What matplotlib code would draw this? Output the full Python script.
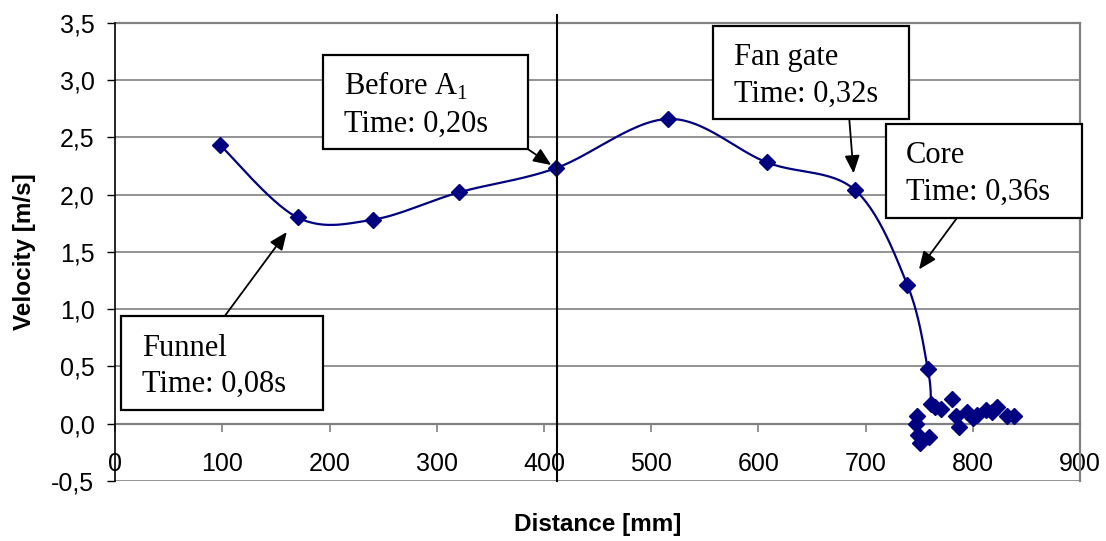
import numpy as np
import matplotlib
matplotlib.use("Agg")
import matplotlib.pyplot as plt
from matplotlib.patches import Rectangle
from matplotlib.ticker import FuncFormatter, MultipleLocator

plt.rcParams['font.family'] = ['Liberation Sans', 'DejaVu Sans']
plt.rcParams['mathtext.fontset'] = 'custom'
plt.rcParams['mathtext.rm'] = 'Liberation Serif'

# ---- data ----
main_x = [98, 170, 240, 321, 411, 516, 608, 690, 739, 758, 761]
main_y = [2.43, 1.80, 1.78, 2.02, 2.23, 2.66, 2.28, 2.04, 1.21, 0.48, 0.17]
cluster_x = [748, 747, 749, 751, 759, 765, 770, 781, 784, 787, 795, 800, 804, 812, 818, 823, 832, 838]
cluster_y = [0.07, 0.00, -0.10, -0.17, -0.12, 0.15, 0.13, 0.22, 0.07, -0.03, 0.10, 0.05, 0.08, 0.12, 0.10, 0.15, 0.07, 0.07]
marker_line_x = 412
x_ticks = [0, 100, 200, 300, 400, 500, 600, 700, 800, 900]
y_ticks = [-0.5, 0.0, 0.5, 1.0, 1.5, 2.0, 2.5, 3.0, 3.5]
annotations = [
    ("Funnel", "Time: 0,08s", 1),
    ("Before A$_\\mathregular{1}$", "Time: 0,20s", 4),
    ("Fan gate", "Time: 0,32s", 7),
    ("Core", "Time: 0,36s", 8),
]

W, H = 1106, 541
NAVY = '#000080'
GRID = '#808080'


def smooth(xs, ys, n=30):
    """Excel-like smoothed line (Catmull-Rom style cubic Bezier)."""
    P = np.column_stack([xs, ys]).astype(float)
    out = []
    m = len(P)
    for i in range(m - 1):
        p0 = P[i - 1] if i > 0 else P[i]
        p1 = P[i]
        p2 = P[i + 1]
        p3 = P[i + 2] if i + 2 < m else P[i + 1]
        c1 = p1 + (p2 - p0) / 6.0
        c2 = p2 - (p3 - p1) / 6.0
        t = np.linspace(0, 1, n)[:, None]
        seg = ((1 - t) ** 3) * p1 + 3 * ((1 - t) ** 2) * t * c1 + 3 * (1 - t) * t ** 2 * c2 + t ** 3 * p2
        out.append(seg if i == 0 else seg[1:])
    S = np.vstack(out)
    return S[:, 0], S[:, 1]


def ff(px, py):
    return (px / W, 1 - py / H)


fig = plt.figure(figsize=(W / 100, H / 100), dpi=100)
ax = fig.add_axes([115.3 / W, 1 - 481 / H, (1080 - 115.3) / W, (481 - 22.7) / H])

ax.set_xlim(0, 900)
ax.set_ylim(-0.5, 3.5)

# grid
for yv in y_ticks:
    ax.axhline(yv, color=GRID, lw=1.2, zorder=1)

sx, sy = smooth(main_x, main_y)
ax.plot(sx, sy, color=NAVY, lw=1.6, zorder=3)
ax.plot(main_x, main_y, linestyle='none', marker='D', ms=8.5, color=NAVY, zorder=4)
ax.plot(cluster_x, cluster_y, linestyle='none', marker='D', ms=8.5, color=NAVY, zorder=4)

ax.plot([marker_line_x, marker_line_x], [-0.5, 3.567], color='black', lw=1.5, clip_on=False, zorder=5)

# spines / axes
ax.spines['bottom'].set_position(('data', 0))
ax.spines['bottom'].set_color(GRID)
ax.spines['bottom'].set_linewidth(1.6)
for s in ['top', 'right']:
    ax.spines[s].set_color(GRID)
    ax.spines[s].set_linewidth(1.6)
ax.spines['left'].set_color('black')
ax.spines['left'].set_linewidth(1.2)
ax.spines['left'].set_zorder(6)

ax.set_xticks(x_ticks)
ax.set_yticks(y_ticks)
ax.yaxis.set_major_formatter(FuncFormatter(lambda v, p: f"{v:.1f}".replace('.', ',')))
ax.tick_params(axis='x', direction='out', length=5.5, width=1.2, color=GRID, pad=15, labelsize=18)
ax.tick_params(axis='y', direction='out', length=6, width=1.0, color='black', pad=9, labelsize=18)

fig.text(598 / W, 1 - 525 / H, 'Distance [mm]', ha='center', va='center', fontsize=17.5, fontweight='bold')
fig.text(25 / W, 1 - 252 / H, 'Velocity [m/s]', ha='center', va='center', rotation=90, fontsize=17.5, fontweight='bold')

# annotation boxes (pixel layout)
boxes = [(120.7, 315.7, 323, 410), (322.7, 55, 527.7, 149), (713.3, 25.7, 909.3, 119.3), (885.7, 124, 1081.7, 218.3)]
text_left = [141.7, 344.3, 734, 906]
baselines = [(355.7, 391.7), (95, 131.7), (65, 101.7), (163.3, 200)]
arrow_start = [(225, 315.7), (527.7, 149), (849.3, 119.3), (956.7, 218.3)]
shrinks = [13, 4, 12, 14]

for (l1, l2, idx), box, tl, bl, st, shr in zip(annotations, boxes, text_left, baselines, arrow_start, shrinks):
    ax.annotate('', xy=(main_x[idx], main_y[idx]), xycoords='data',
                xytext=ff(*st), textcoords='figure fraction',
                arrowprops=dict(arrowstyle='-|>,head_length=0.9,head_width=0.38', color='black',
                                lw=1.3, shrinkA=0, shrinkB=shr, mutation_scale=12),
                annotation_clip=False, zorder=7)
    x0, y0, x1, y1 = box
    rect = Rectangle(ff(x0, y1), (x1 - x0) / W, (y1 - y0) / H, transform=fig.transFigure,
                     facecolor='white', edgecolor='black', lw=1.6, zorder=10)
    fig.add_artist(rect)
    fig.text(*ff(tl, bl[0]), l1, ha='left', va='baseline', fontsize=22, family='Liberation Serif', zorder=11)
    fig.text(*ff(tl, bl[1]), l2, ha='left', va='baseline', fontsize=22, family='Liberation Serif', zorder=11)

fig.savefig('out.png', dpi=100)
